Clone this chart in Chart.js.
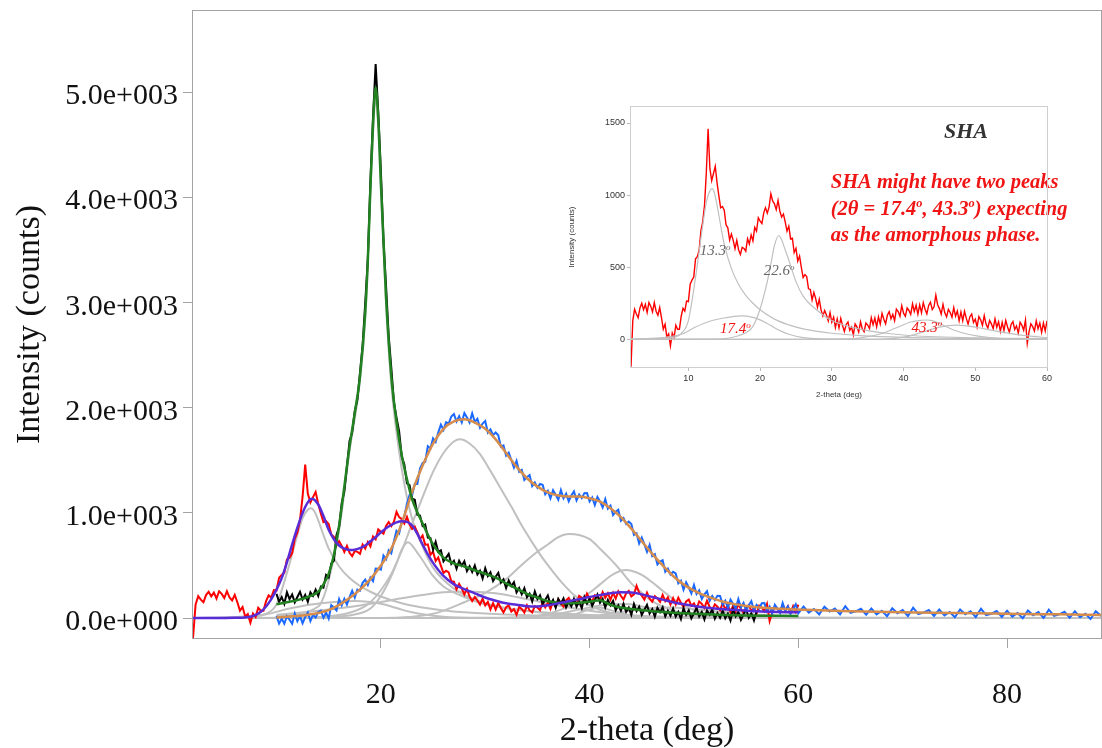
<!DOCTYPE html>
<html>
<head>
<meta charset="utf-8">
<script src="https://cdn.jsdelivr.net/npm/chart.js@4/dist/chart.umd.min.js"></script>
<style>
  body { margin: 0; background: #fff; }
  #wrap { position: relative; width: 1102px; height: 748px; }
  #inset { position: absolute; left: 560px; top: 95px; }
</style>
</head>
<body>
<div id="wrap">
  <canvas id="main" width="1102" height="748"></canvas>
  <canvas id="inset" width="520" height="315"></canvas>
</div>
<script>
// tick values
const mainXTicks = [20, 40, 60, 80];
const mainYTicks = [0, 1000, 2000, 3000, 4000, 5000];
const insetXTicks = [10, 20, 30, 40, 50, 60];
const insetYTicks = [0, 500, 1000, 1500];

// raw scans, sampled every 0.25 deg
const dataStep = 0.25;
const redStart = 2;
const redCounts = [
  -190, 130, 208, 175, 150, 218, 250, 206, 242, 186, 255, 230, 190, 255, 195, 167,
  220, 150, 70, 105, 15, 37, -45, 43, 10, 98, 70, 70, 160, 215, 195, 265,
  262, 383, 410, 432, 559, 573, 618, 753, 814, 930, 1154, 1460, 1185, 1100, 1150, 1200,
  1085, 995, 912, 921, 895, 794, 773, 689, 730, 686, 628, 686, 620, 589, 638, 630,
  611, 698, 661, 724, 682, 776, 750, 843, 820, 803, 875, 913, 875, 917, 1010, 960,
  940, 899, 963, 890, 848, 869, 814, 750, 785, 696, 701, 601, 631, 542, 577, 498,
  428, 449, 435, 350, 346, 273, 325, 282, 224, 277, 204, 162, 200, 168, 127, 185,
  119, 153, 82, 141, 80, 145, 94, 54, 103, 120, 62, 84, 31, 106, 86, 51,
  121, 72, 53, 113, 99, 75, 150, 101, 147, 87, 156, 106, 180, 139, 108, 168,
  192, 143, 173, 129, 210, 193, 160, 233, 181, 159, 217, 200, 173, 246, 193, 236,
  174, 239, 184, 254, 209, 177, 235, 258, 206, 225, 306, 240, 213, 175, 242, 184,
  156, 208, 186, 153, 220, 161, 197, 128, 189, 129, 194, 145, 105, 157, 175, 117,
  139, 86, 158, 135, 97, 164, 106, 78, 130, 107, 74, 142, 84, 122, 55, 118,
  62, 131, 85, 49, 103, 123, 68, 93, 43, 118, 98, 63, 133, -28, 53, 108,
  88, 58, 128, 73, 113, 48, 113, 58, 128
];
const blackStart = 10;
const blackCounts = [
  230, 155, 200, 135, 245, 180, 225, 150, 200, 250, 175, 220, 155, 245, 210, 270,
  210, 300, 290, 410, 385, 520, 545, 790, 865, 1095, 1205, 1445, 1685, 1765, 1970, 2075,
  2335, 2595, 2995, 3410, 4165, 4770, 5270, 4815, 4260, 3595, 3150, 2685, 2380, 2055, 1905, 1775,
  1535, 1460, 1280, 1265, 1135, 1125, 980, 975, 875, 890, 765, 760, 650, 725, 630, 645,
  540, 575, 610, 515, 545, 468, 545, 497, 540, 446, 492, 438, 499, 415, 451, 377,
  473, 399, 435, 351, 393, 430, 337, 368, 285, 357, 304, 341, 243, 285, 227, 284,
  197, 232, 157, 253, 180, 216, 132, 173, 215, 131, 172, 99, 181, 139, 187, 101,
  155, 111, 182, 108, 155, 93, 200, 138, 186, 115, 169, 223, 146, 182, 100, 173,
  120, 164, 73, 122, 70, 136, 58, 99, 30, 133, 65, 108, 30, 78, 125, 43,
  85, 13, 97, 55, 103, 16, 69, 22, 90, 14, 58, -9, 95, 29, 73, -4,
  45, 95, 14, 58, -13, 72, 31, 81, -5, 49, 3, 73, -3, 42, -24, 81,
  15, 59, -17, 33, 82, 2, 46, -24, 60
];
const blueStart = 10;
const blueCounts = [
  20, -53, -6, -55, 17, -16, -54, 43, -30, 18, -49, 9, 52, -29, 30, 4,
  58, 70, 2, 53, -5, 123, 100, 72, 180, 121, 183, 129, 200, 260, 195, 270,
  260, 335, 365, 315, 385, 352, 470, 468, 460, 595, 560, 645, 615, 730, 830, 805,
  920, 965, 1090, 1170, 1170, 1277, 1275, 1423, 1475, 1487, 1635, 1613, 1710, 1675, 1765, 1840,
  1790, 1863, 1850, 1917, 1940, 1870, 1920, 1860, 1950, 1907, 1860, 1948, 1865, 1895, 1810, 1850,
  1875, 1765, 1795, 1740, 1765, 1738, 1630, 1642, 1545, 1573, 1505, 1432, 1495, 1392, 1410, 1313,
  1340, 1360, 1255, 1290, 1240, 1276, 1267, 1178, 1210, 1138, 1215, 1172, 1125, 1217, 1140, 1183,
  1110, 1165, 1205, 1120, 1175, 1141, 1188, 1189, 1110, 1147, 1074, 1151, 1108, 1052, 1131, 1040,
  1070, 979, 1012, 1031, 925, 952, 895, 918, 895, 790, 805, 710, 765, 700, 630, 695,
  590, 607, 510, 538, 550, 440, 470, 415, 440, 425, 330, 355, 270, 340, 290, 235,
  315, 229, 263, 181, 225, 256, 163, 209, 170, 212, 210, 128, 165, 95, 175, 135,
  90, 181, 102, 144, 70, 122, 160, 72, 125, 92, 140, 142, 65, 109, 42, 126,
  90, 49, 142, 66, 110, 39, 92, 131, 45
];
// blue scan beyond 60 deg, every 0.5 deg
const blueTailStart = 60.5;
const blueTailStep = 0.5;
const blueTailCounts = [
  108, 52, 86, 35, 108, 62, 91, 35, 113, 50, 64, 88, 32, 91, 35, 69,
  18, 92, 46, 75, 19, 99, 38, 52, 76, 20, 80, 24, 58, 8, 82, 36,
  65, 9, 88, 27, 41, 66, 10, 70, 14, 48, -2, 72, 27, 56, 1, 80,
  20, 35, 59, 3, 63, 7, 41, -9, 65, 20
];

// fitted curves
const redFitX = [2, 4, 6, 7, 7.5, 8, 8.5, 9, 9.5, 10, 10.5, 11, 11.5, 12, 12.5, 13, 13.4, 14, 14.5, 15, 15.5, 16, 16.5, 17, 17.5, 18, 18.5, 19, 19.5, 20, 20.5, 21, 21.5, 22, 22.5, 23, 23.5, 24, 24.5, 25, 26, 27, 28, 29, 30, 31, 32, 33, 34, 35, 36, 37, 38, 39, 40, 41, 42, 43, 44, 45, 46, 47, 48, 50, 52, 55, 58, 60];
const redFitY = [0, 0, 2, 6, 12, 30, 60, 110, 180, 270, 380, 530, 700, 860, 1000, 1100, 1135, 1080, 970, 840, 750, 690, 660, 648, 650, 665, 690, 730, 770, 815, 855, 885, 910, 920, 915, 880, 800, 700, 605, 525, 400, 320, 275, 235, 195, 165, 140, 127, 112, 110, 122, 140, 160, 180, 200, 218, 235, 245, 242, 225, 200, 175, 150, 115, 90, 70, 58, 55];
const blackFitX = [10, 11, 12, 13, 14, 14.5, 15, 15.5, 16, 16.5, 17, 17.5, 18, 18.5, 18.75, 19, 19.25, 19.5, 19.75, 20, 20.25, 20.5, 21, 21.5, 22, 22.5, 23, 24, 25, 26, 27, 28, 29, 30, 31, 32, 33, 34, 35, 36, 37, 38, 39, 40, 40.5, 41, 41.5, 42, 43, 44, 46, 48, 50, 55, 60];
const blackFitY = [130, 150, 170, 200, 250, 320, 420, 600, 880, 1250, 1630, 1950, 2300, 2900, 3400, 4100, 4700, 5050, 4750, 4150, 3600, 3050, 2300, 1870, 1550, 1320, 1130, 900, 700, 575, 520, 490, 455, 420, 385, 330, 280, 230, 195, 160, 145, 140, 145, 155, 165, 170, 150, 125, 100, 85, 65, 50, 40, 25, 20];
const blueFitX = [10, 11, 12, 13, 14, 15, 16, 17, 18, 19, 20, 21, 22, 23, 24, 25, 26, 27, 28, 29, 30, 31, 32, 33, 34, 35, 36, 37, 38, 39, 40, 41, 42, 43, 44, 45, 46, 47, 48, 49, 50, 51, 52, 53, 54, 55, 57, 60, 65, 70, 75, 80, 85, 89];
const blueFitY = [5, 12, 20, 32, 48, 75, 125, 190, 270, 370, 500, 660, 900, 1200, 1450, 1660, 1800, 1870, 1890, 1860, 1800, 1700, 1570, 1440, 1330, 1250, 1195, 1165, 1155, 1155, 1140, 1108, 1045, 960, 850, 730, 610, 500, 400, 320, 260, 215, 180, 150, 130, 115, 95, 80, 65, 55, 48, 40, 35, 30];

// peak components of the SHA (red) fit
const c13X = [2, 6, 8, 9, 10, 11, 12, 12.5, 13, 13.3, 13.6, 14, 14.5, 15, 16, 17, 18, 19, 20, 22, 24, 26, 28, 30, 34, 40, 50, 60];
const c13Y = [0, 5, 15, 40, 130, 430, 790, 950, 1030, 1045, 1020, 930, 790, 660, 490, 380, 305, 250, 205, 140, 100, 72, 55, 42, 26, 14, 6, 3];
const c17X = [2, 6, 9, 11, 13, 15, 16, 17.4, 19, 20, 21, 22, 23, 24, 26, 30, 40, 60];
const c17Y = [0, 10, 35, 85, 125, 148, 156, 162, 152, 135, 110, 80, 55, 35, 12, 2, 0, 0];
const c22X = [2, 14, 17, 18, 19, 20, 21, 21.5, 22, 22.6, 23, 23.5, 24, 25, 26, 28, 30, 34, 40, 50, 60];
const c22Y = [0, 2, 25, 45, 90, 210, 400, 520, 650, 720, 690, 620, 550, 400, 300, 200, 130, 70, 30, 10, 5];
const c43X = [2, 30, 34, 37, 39, 41, 42.5, 43.3, 44, 45, 47, 49, 52, 56, 60];
const c43Y = [0, 0, 10, 40, 80, 120, 132, 134, 130, 110, 65, 35, 12, 3, 0];
const c47X = [2, 36, 40, 43, 45, 47.4, 50, 52, 55, 58, 60];
const c47Y = [0, 0, 15, 55, 85, 99, 85, 65, 40, 20, 12];
// components of the blue fit
const b27X = [10, 14, 17, 19, 21, 22, 23, 24, 25, 26, 27, 27.6, 28.5, 29.5, 30.5, 31.5, 32.5, 33.5, 34.5, 35.5, 36.5, 37.5, 38.5, 40, 42, 45, 50, 60, 89];
const b27Y = [0, 10, 50, 150, 420, 640, 900, 1150, 1390, 1570, 1680, 1700, 1660, 1560, 1400, 1230, 1060, 880, 720, 570, 440, 320, 220, 120, 50, 15, 3, 0, 0];
const b38X = [10, 20, 25, 28, 30, 32, 33, 34, 35, 36, 37, 38, 39, 40, 41, 42, 43, 44, 45, 46, 48, 50, 55, 89];
const b38Y = [0, 0, 40, 150, 240, 370, 460, 550, 630, 700, 770, 800, 790, 750, 660, 560, 450, 330, 240, 160, 70, 25, 5, 0];
const b43X = [10, 30, 35, 37, 38, 39, 40, 41, 42, 43, 43.5, 44, 45, 46, 47, 48, 49, 50, 52, 55, 60, 89];
const b43Y = [0, 0, 20, 70, 110, 170, 240, 320, 400, 450, 457, 450, 410, 340, 260, 180, 120, 75, 25, 5, 0, 0];
// components of the black fit
const k19X = [10, 14, 16, 17, 18, 18.5, 19, 19.25, 19.5, 19.75, 20, 20.5, 21, 22, 23, 24, 25, 27, 30, 35, 40, 50, 60];
const k19Y = [20, 110, 840, 1590, 2260, 2860, 4060, 4620, 4960, 4660, 4070, 2980, 2220, 1420, 940, 680, 480, 280, 140, 55, 20, 5, 0];
const k28X = [10, 14, 18, 21, 24, 27, 29, 31, 33, 35, 37, 40, 43, 46, 50, 55, 60];
const k28Y = [30, 70, 120, 170, 220, 250, 250, 235, 200, 160, 120, 70, 35, 15, 5, 0, 0];
const k41X = [10, 36, 38, 40, 41, 42, 44, 46, 60];
const k41Y = [0, 0, 20, 80, 100, 75, 20, 0, 0];

// helpers
const stepPts = (x0, step, ys) => ys.map((y, i) => ({ x: x0 + i * step, y }));
const xyPts = (xs, ys) => xs.map((x, i) => ({ x, y: ys[i] }));

const GREY = 'rgb(192,192,192)';
const serif = '"Liberation Serif", "Times New Roman", serif';
const sans = '"Liberation Sans", Arial, sans-serif';

function noisy(label, pts, color, order, width) {
  return { label, data: pts, borderColor: color, borderWidth: width, tension: 0, order };
}
function smooth(label, pts, color, order, width) {
  return { label, data: pts, borderColor: color, borderWidth: width, cubicInterpolationMode: 'monotone', order };
}

function sci(v) {
  const [m, e] = v.toExponential(1).split('e');
  return m + 'e' + e[0] + String(Math.abs(+e)).padStart(3, '0');
}

const framePlugin = {
  id: 'frame',
  afterDraw(chart, args, opts) {
    const { ctx, chartArea: a } = chart;
    ctx.save();
    ctx.strokeStyle = opts.color || '#999';
    ctx.lineWidth = 1;
    const l = Math.round(a.left) - 0.5, t = Math.round(a.top) - 0.5;
    ctx.strokeRect(l, t, Math.round(a.right) - Math.round(a.left) + 1, Math.round(a.bottom) - Math.round(a.top) + 1);
    ctx.restore();
  }
};

// ---- main chart ----
// order: fits on top, then the scans, grey components underneath
const redPts = stepPts(redStart, dataStep, redCounts);
const mainSets = [
  smooth('SHA fit', xyPts(redFitX, redFitY), 'rgb(88,44,214)', 0, 2.5),
  smooth('black fit', xyPts(blackFitX, blackFitY), 'rgb(34,130,34)', 0, 2.5),
  smooth('blue fit', xyPts(blueFitX, blueFitY), 'rgb(214,140,74)', 0, 2.5),
  noisy('blue', stepPts(blueStart, dataStep, blueCounts).concat(stepPts(blueTailStart, blueTailStep, blueTailCounts)), 'rgb(26,104,255)', 1, 2),
  noisy('black', stepPts(blackStart, dataStep, blackCounts), '#000', 2, 2),
  noisy('SHA', redPts, 'rgb(255,0,0)', 3, 2),
  smooth('13.3', xyPts(c13X, c13Y), GREY, 4, 2),
  smooth('17.4', xyPts(c17X, c17Y), GREY, 4, 2),
  smooth('22.6', xyPts(c22X, c22Y), GREY, 4, 2),
  smooth('43.3', xyPts(c43X, c43Y), GREY, 4, 2),
  smooth('47.4', xyPts(c47X, c47Y), GREY, 4, 2),
  smooth('b27', xyPts(b27X, b27Y), GREY, 4, 2),
  smooth('b38', xyPts(b38X, b38Y), GREY, 4, 2),
  smooth('b43', xyPts(b43X, b43Y), GREY, 4, 2),
  smooth('k19', xyPts(k19X, k19Y), GREY, 4, 2),
  smooth('k28', xyPts(k28X, k28Y), GREY, 4, 2),
  smooth('k41', xyPts(k41X, k41Y), GREY, 4, 2)
];

new Chart(document.getElementById('main'), {
  type: 'line',
  data: { datasets: mainSets },
  options: {
    responsive: false,
    animation: false,
    devicePixelRatio: 1,
    layout: { padding: { top: 11, right: 1, left: 0, bottom: 0 } },
    elements: { point: { radius: 0 } },
    plugins: { legend: { display: false }, tooltip: { enabled: false }, frame: { color: '#a3a3a3' } },
    scales: {
      x: {
        type: 'linear', min: 2, max: 89,
        afterBuildTicks: s => { s.ticks = mainXTicks.map(v => ({ value: v })); },
        afterFit: s => { s.height = 110; s.paddingLeft = 0; s.paddingRight = 0; },
        border: { display: false },
        grid: { drawOnChartArea: false, tickLength: 10, color: '#a3a3a3' },
        ticks: { font: { family: serif, size: 30 }, color: '#111', padding: 29, maxRotation: 0 },
        title: { display: true, text: '2-theta (deg)', color: '#111', font: { family: serif, size: 34, lineHeight: 1.0 }, padding: 0 }
      },
      y: {
        type: 'linear', min: -190, max: 5775,
        afterBuildTicks: s => { s.ticks = mainYTicks.map(v => ({ value: v })); },
        afterFit: s => { s.width = 193; s.paddingTop = 0; s.paddingBottom = 0; },
        border: { display: false },
        grid: { drawOnChartArea: false, tickLength: 10, color: '#a3a3a3' },
        ticks: { font: { family: serif, size: 30 }, color: '#111', padding: 5, labelOffset: 4, callback: v => sci(v) },
        title: { display: true, text: 'Intensity (counts)', color: '#111', font: { family: serif, size: 34, lineHeight: 1.1 }, padding: { top: 11, bottom: 0 } }
      }
    }
  },
  plugins: [framePlugin]
});

// ---- inset (SHA only) ----
function richText(ctx, parts, x, y, size, style, color) {
  let cx = x;
  ctx.fillStyle = color;
  ctx.textAlign = 'left';
  ctx.textBaseline = 'alphabetic';
  parts.forEach(p => {
    const sup = p[0] === '^';
    const t = sup ? p.slice(1) : p;
    ctx.font = style + ' ' + (sup ? size * 0.6 : size) + 'px ' + serif;
    ctx.fillText(t, cx, sup ? y - size * 0.38 : y);
    cx += ctx.measureText(t).width;
  });
}

const insetNotes = {
  id: 'notes',
  afterDatasetsDraw(chart) {
    const { ctx, scales: { x, y } } = chart;
    ctx.save();
    ctx.font = 'italic bold 22px ' + serif;
    ctx.fillStyle = '#333';
    ctx.textAlign = 'center';
    ctx.textBaseline = 'middle';
    ctx.fillText('SHA', x.getPixelForValue(48.7), y.getPixelForValue(1437));
    const red = 'rgb(240,20,20)';
    const lx = x.getPixelForValue(29.85);
    richText(ctx, ['SHA might have two peaks'], lx, y.getPixelForValue(1096) + 7, 20.5, 'italic bold', red);
    richText(ctx, ['(2θ = 17.4', '^o', ', 43.3', '^o', ') expecting'], lx, y.getPixelForValue(911) + 7, 20.5, 'italic bold', red);
    richText(ctx, ['as the amorphous phase.'], lx, y.getPixelForValue(733) + 7, 20.5, 'italic bold', red);
    richText(ctx, ['13.3', '^o'], x.getPixelForValue(11.6), y.getPixelForValue(617) + 5, 15, 'italic', '#666');
    richText(ctx, ['22.6', '^o'], x.getPixelForValue(20.5), y.getPixelForValue(478) + 5, 15, 'italic', '#666');
    richText(ctx, ['17.4', '^o'], x.getPixelForValue(14.4), y.getPixelForValue(76) + 5, 15, 'italic', red);
    richText(ctx, ['43.3', '^o'], x.getPixelForValue(41.1), y.getPixelForValue(85) + 5, 15, 'italic', red);
    ctx.restore();
  }
};

const insetSets = [
  smooth('13.3', xyPts(c13X, c13Y), GREY, 1, 1.2),
  smooth('17.4', xyPts(c17X, c17Y), GREY, 1, 1.2),
  smooth('22.6', xyPts(c22X, c22Y), GREY, 1, 1.2),
  smooth('43.3', xyPts(c43X, c43Y), GREY, 1, 1.2),
  smooth('47.4', xyPts(c47X, c47Y), GREY, 1, 1.2),
  noisy('SHA', redPts, 'rgb(255,0,0)', 2, 1.4)
];

new Chart(document.getElementById('inset'), {
  type: 'line',
  data: { datasets: insetSets },
  options: {
    responsive: false,
    animation: false,
    devicePixelRatio: 1,
    layout: { padding: { top: 12, right: 33, left: 0, bottom: 0 } },
    elements: { point: { radius: 0 } },
    plugins: { legend: { display: false }, tooltip: { enabled: false }, frame: { color: '#cfcfcf' } },
    scales: {
      x: {
        type: 'linear', min: 2, max: 60,
        afterBuildTicks: s => { s.ticks = insetXTicks.map(v => ({ value: v })); },
        afterFit: s => { s.height = 43; },
        border: { display: false },
        grid: { drawOnChartArea: false, tickLength: 4, color: '#bbb' },
        ticks: { font: { family: sans, size: 9 }, color: '#333', padding: 2, maxRotation: 0, callback: v => String(v) },
        title: { display: true, text: '2-theta (deg)', color: '#333', font: { family: sans, size: 8 }, padding: { top: 0, bottom: 10 } }
      },
      y: {
        type: 'linear', min: -192, max: 1611,
        afterBuildTicks: s => { s.ticks = insetYTicks.map(v => ({ value: v })); },
        afterFit: s => { s.width = 71; },
        border: { display: false },
        grid: { drawOnChartArea: false, tickLength: 4, color: '#bbb' },
        ticks: { font: { family: sans, size: 9 }, color: '#333', padding: 2, callback: v => String(v) },
        title: { display: true, text: 'Intensity (counts)', color: '#333', font: { family: sans, size: 8 }, padding: { top: 7, bottom: 0 } }
      }
    }
  },
  plugins: [framePlugin, insetNotes]
});
</script>
</body>
</html>
